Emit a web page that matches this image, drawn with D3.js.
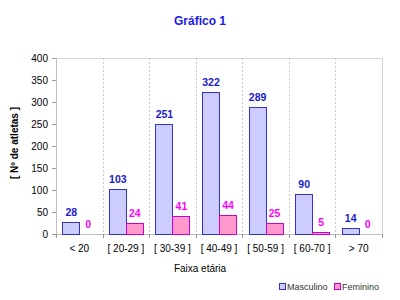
<!DOCTYPE html>
<html><head><meta charset="utf-8">
<script src="https://cdn.jsdelivr.net/npm/d3@7"></script>
<style>body{margin:0;background:#fff}svg{display:block}text{font-family:"Liberation Sans",Arial,sans-serif}</style>
</head><body>
<script>
const categories = ["< 20","[ 20-29 ]","[ 30-39 ]","[ 40-49 ]","[ 50-59 ]","[ 60-70 ]","> 70"];
const masculino = [28,103,251,322,289,90,14];
const feminino = [0,24,41,44,25,5,0];
const yTicks = [0,50,100,150,200,250,300,350,400];
const seriesNames = ["Masculino","Feminino"];

const W=400,H=300;
const m={l:56,r:382,t:58,b:234};
const svg=d3.select("body").append("svg").attr("width",W).attr("height",H);

const x=d3.scaleBand().domain(categories).range([m.l,m.r]).paddingInner(0).paddingOuter(0);
const inner=d3.scaleBand().domain(seriesNames).range([0,x.bandwidth()]).paddingInner(0).paddingOuter(0.37);
const y=d3.scaleLinear().domain([0,400]).range([m.b,m.t]);

// plot frame
svg.append("line").attr("x1",m.l).attr("x2",m.r).attr("y1",m.t+0.5).attr("y2",m.t+0.5).attr("stroke","#d8d8d8");
svg.append("line").attr("x1",m.r+0.5).attr("x2",m.r+0.5).attr("y1",m.t).attr("y2",m.b).attr("stroke","#cfcfcf");
// vertical dotted grid
svg.selectAll(".vg").data(categories.slice(1)).enter().append("line")
 .attr("x1",d=>Math.round(x(d))+0.5).attr("x2",d=>Math.round(x(d))+0.5).attr("y1",m.t).attr("y2",m.b)
 .attr("stroke","#c8c8c8").attr("stroke-dasharray","2,2");

// y axis
const ya=svg.append("g").attr("transform",`translate(${m.l},0)`).call(d3.axisLeft(y).tickValues(yTicks).tickSize(4).tickPadding(4));
ya.select(".domain").attr("stroke","#c0c0c0");
ya.selectAll(".tick line").attr("stroke","#999");
ya.selectAll("text").attr("font-size",10).attr("fill","#000").attr("font-family","Liberation Sans, Arial");

// x axis
const xa=svg.append("g").attr("transform",`translate(0,${m.b})`).call(d3.axisBottom(x).tickSize(0).tickPadding(11));
xa.select(".domain").attr("stroke","#c0c0c0");
xa.selectAll("text").attr("font-size",10).attr("fill","#000").attr("font-family","Liberation Sans, Arial");
svg.selectAll(".xt").data(categories.concat(["end"])).enter().append("line")
 .attr("x1",(d,i)=>Math.round(m.l+i*x.bandwidth())+0.5).attr("x2",(d,i)=>Math.round(m.l+i*x.bandwidth())+0.5)
 .attr("y1",m.b).attr("y2",m.b+4).attr("stroke","#999");

// bars
const mCol={fill:"#ccccff",stroke:"#3333cc",text:"#1a1acc"};
const fCol={fill:"#ff99cc",stroke:"#cc00cc",text:"#ff00ff"};
function drawSeries(vals,name,c){
  svg.selectAll(".b"+name).data(vals).enter().append("rect")
   .attr("x",(d,i)=>Math.round(x(categories[i])+inner(name))+0.5)
   .attr("y",d=>Math.round(y(d))+0.5).attr("width",Math.round(inner.bandwidth()))
   .attr("height",d=>Math.max(0,Math.round(y(0))-Math.round(y(d))))
   .attr("fill",c.fill).attr("stroke",c.stroke).attr("stroke-width",1);
  svg.selectAll(".l"+name).data(vals).enter().append("text")
   .attr("x",(d,i)=>x(categories[i])+inner(name)+inner.bandwidth()/2+0.5)
   .attr("y",d=>y(d)-6).attr("text-anchor","middle")
   .attr("font-size",10.5).attr("font-weight","bold").attr("fill",c.text).text(d=>d);
}
drawSeries(masculino,"Masculino",mCol);
drawSeries(feminino,"Feminino",fCol);

// titles
svg.append("text").attr("x",200).attr("y",25).attr("text-anchor","middle")
 .attr("font-size",12).attr("font-weight","bold").attr("fill","#1a1ae6").text("Gráfico 1");
svg.append("text").attr("x",200).attr("y",272).attr("text-anchor","middle")
 .attr("font-size",10).attr("fill","#000").text("Faixa etária");
svg.append("text").attr("transform","translate(18,143) rotate(-90)").attr("text-anchor","middle")
 .attr("font-size",10).attr("font-weight","bold").attr("fill","#000").text("[ Nº de atletas ]");

// legend
const leg=[{n:"Masculino",c:mCol,x:279},{n:"Feminino",c:fCol,x:334}];
leg.forEach(l=>{
  svg.append("rect").attr("x",l.x+0.5).attr("y",283.5).attr("width",6).attr("height",6)
   .attr("fill",l.c.fill).attr("stroke",l.c.stroke);
  svg.append("text").attr("x",l.x+8).attr("y",290).attr("font-size",9).attr("fill","#333").text(l.n);
});
</script>
</body></html>
